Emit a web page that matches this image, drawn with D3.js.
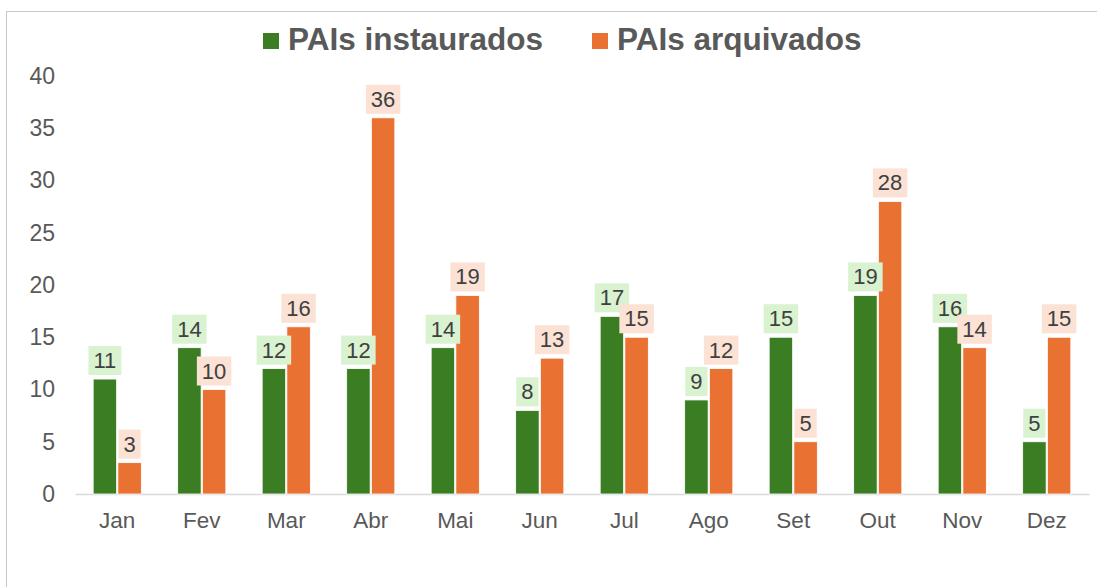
<!DOCTYPE html>
<html>
<head>
<meta charset="utf-8">
<script src="https://cdn.jsdelivr.net/npm/d3@7"></script>
<style>
  body { margin: 0; background: #fff; }
  svg { display: block; font-family: "Liberation Sans", Arial, sans-serif; }
</style>
</head>
<body>
<script>
// monthly PAI counts
var months = ["Jan", "Fev", "Mar", "Abr", "Mai", "Jun", "Jul", "Ago", "Set", "Out", "Nov", "Dez"]
var instaurados = [11, 14, 12, 12, 14, 8, 17, 9, 15, 19, 16, 5]
var arquivados = [3, 10, 16, 36, 19, 13, 15, 12, 5, 28, 14, 15]
var seriesNames = ["PAIs instaurados", "PAIs arquivados"]
var yTicks = [0, 5, 10, 15, 20, 25, 30, 35, 40]

var colors = ["#3B7D23", "#E97132"]
var labelBg = ["#D9F2D0", "#FBE2D5"]

var width = 1097, height = 587

var svg = d3.select("body").append("svg")
    .attr("width", width)
    .attr("height", height)

// chart frame (right / bottom edges sit outside the picture)
svg.append("rect")
    .attr("x", 6.5).attr("y", 11.5)
    .attr("width", 1200).attr("height", 1000)
    .attr("fill", "none")
    .attr("stroke", "#c8c8c8")

var x0 = d3.scaleBand()
    .domain(months)
    .range([75, 1089])
    .paddingInner(0.43)
    .paddingOuter(0.215)

var x1 = d3.scaleBand()
    .domain([0, 1])
    .range([0, x0.bandwidth()])
    .paddingInner(0.05)

var y = d3.scaleLinear()
    .domain([0, 40])
    .range([494, 76])

// y axis labels only
var yAxis = d3.axisLeft(y).tickValues(yTicks).tickSize(0).tickPadding(0)
var yg = svg.append("g")
    .attr("transform", "translate(55,0)")
    .call(yAxis)
yg.select(".domain").remove()
yg.selectAll("text")
    .attr("fill", "#595959")
    .style("font-size", "23px")
    .style("font-family", "'Liberation Sans', Arial, sans-serif")

// x axis
var xAxis = d3.axisBottom(x0).tickSize(0).tickPadding(18)
var xg = svg.append("g")
    .attr("transform", "translate(0,494)")
    .call(xAxis)
xg.select(".domain").attr("stroke", "#d9d9d9").attr("stroke-width", 1.5)
xg.selectAll("text")
    .attr("fill", "#595959")
    .style("font-size", "22.5px")
    .style("font-family", "'Liberation Sans', Arial, sans-serif")

var rows = months.map((m, i) => ({month: m, values: [instaurados[i], arquivados[i]]}))

var groups = svg.append("g").attr("class", "bars")
    .selectAll("g")
    .data(rows)
    .enter().append("g")
    .attr("transform", d => `translate(${x0(d.month)},0)`)

groups.selectAll("rect")
    .data(d => d.values.map((v, s) => ({v: v, s: s})))
    .enter().append("rect")
    .attr("x", d => x1(d.s))
    .attr("width", x1.bandwidth())
    .attr("y", d => y(d.v))
    .attr("height", d => y(0) - y(d.v))
    .attr("fill", d => colors[d.s])
    .attr("stroke", "#fff")
    .attr("stroke-width", 0.8)

// data labels with shaded boxes, drawn series by series so arquivados sits on top
var labelLayer = svg.append("g").attr("class", "labels")
;[0, 1].forEach(s => {
    rows.forEach(r => {
        var cx = x0(r.month) + x1(s) + x1.bandwidth() / 2
        var v = r.values[s]
        var g = labelLayer.append("g")
        var rect = g.append("rect").attr("fill", labelBg[s])
        var t = g.append("text")
            .attr("x", cx)
            .attr("y", y(v) - 11)
            .attr("text-anchor", "middle")
            .attr("fill", "#404040")
            .style("font-size", "22px")
            .text(v)
        var bb = t.node().getBBox()
        rect.attr("x", bb.x - 5)
            .attr("y", y(v) - 33)
            .attr("width", bb.width + 10)
            .attr("height", 29)
    })
})

// legend
var legend = svg.append("g").attr("class", "legend")
var legendX = [263, 592]
seriesNames.forEach((name, i) => {
    legend.append("rect")
        .attr("x", legendX[i]).attr("y", 33)
        .attr("width", 16).attr("height", 16)
        .attr("fill", colors[i])
    legend.append("text")
        .attr("x", legendX[i] + 25)
        .attr("y", 50)
        .attr("fill", "#595959")
        .style("font-size", "31.5px")
        .style("font-weight", "bold")
        .text(name)
})
</script>
</body>
</html>
